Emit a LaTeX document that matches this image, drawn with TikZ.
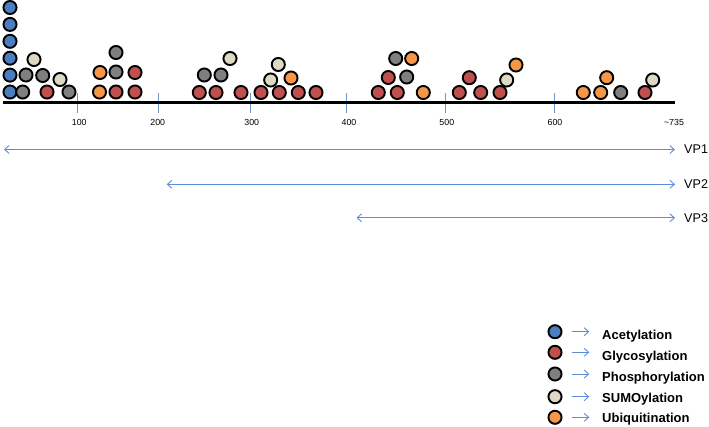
\documentclass[tikz,border=0pt]{standalone}
\usepackage{fontspec}
\setmainfont{Liberation Sans}
\usetikzlibrary{arrows.meta}
\definecolor{cacet}{HTML}{4A7EBF}
\definecolor{cglyc}{HTML}{C0504D}
\definecolor{cphos}{HTML}{7F7F7F}
\definecolor{csumo}{HTML}{DDD9C3}
\definecolor{cubiq}{HTML}{F79646}
\definecolor{carrow}{HTML}{5B8ED6}
\definecolor{ctick}{HTML}{6A96CC}
\tikzset{
  site/.style={circle, draw=black, line width=1.9pt, minimum size=13.1pt, inner sep=0pt},
  axislabel/.style={font=\fontsize{8.8}{10}\selectfont, inner sep=0pt},
  vplabel/.style={font=\fontsize{12.6}{14}\selectfont, anchor=west, inner sep=0pt},
  leglabel/.style={font=\fontsize{13}{15}\selectfont\bfseries, anchor=base west, inner sep=0pt},
  vprange/.style={draw=carrow, line width=0.9pt, {Straight Barb[length=4.5pt,width=8pt]}-{Straight Barb[length=4.5pt,width=8pt]}},
  legarrow/.style={draw=carrow, line width=0.9pt, -{Straight Barb[length=4.5pt,width=8pt]}},
  tickmark/.style={draw=ctick, line width=0.9pt}
}
\begin{document}
\begin{tikzpicture}[x=1pt,y=-1pt]
\useasboundingbox (0,0) rectangle (709,426);
% axis
\coordinate (axL) at (3,102.5);
\coordinate (axR) at (675,102.5);
% ticks and labels
\foreach \x/\lx/\t [count=\i] in {77.3/79.3/100, 158/157.8/200, 250.7/251.7/300, 346.7/349/400, 445.7/446.8/500, 554/555/600} {
  \coordinate (tt\i) at (\x,93);
  \coordinate (tb\i) at (\x,112.5);
  \draw[tickmark] (tt\i) -- (tb\i);
  \node[axislabel] (tl\i) at (\lx,122.3) {\t};
}
\draw[line width=3pt, black] (axL) -- (axR);
\node[axislabel] (tlend) at (674,122.3) {\char`\~735};
% sites
\foreach \x/\y/\c [count=\i] in {
  10/7.5/cacet, 10/24.4/cacet, 10/41.3/cacet, 10/58.2/cacet, 10/75.1/cacet, 10/92/cacet,
  22.7/92/cphos, 47/92/cglyc, 69/92/cphos, 26/75/cphos, 42.7/75.5/cphos, 60/79.5/csumo, 34/59.5/csumo,
  99.5/92/cubiq, 116/92/cglyc, 135/92/cglyc, 100/72.5/cubiq, 116/72/cphos, 135/72.5/cglyc, 116/52.5/cphos,
  199.3/92.5/cglyc, 216/92.5/cglyc, 241/92.5/cglyc, 261/92.5/cglyc, 279.3/92.5/cglyc, 298.3/92.5/cglyc, 316/92.5/cglyc,
  204.3/75/cphos, 221/75/cphos, 230/58.5/csumo, 278.3/64.5/csumo, 270.7/80/csumo, 291/78/cubiq,
  378.3/92.5/cglyc, 397.3/92.5/cglyc, 423.3/92.5/cubiq, 388.3/77.5/cglyc, 406.7/77/cphos, 395.7/58.5/cphos, 411.7/58.5/cubiq,
  459.3/92.5/cglyc, 480.7/92.5/cglyc, 500/92.5/cglyc, 469.3/77.7/cglyc, 506.7/80/csumo, 516/65/cubiq,
  583.3/92.5/cubiq, 600.7/92.5/cubiq, 606.7/77.7/cubiq, 620.7/92.5/cphos, 645/92.5/cglyc, 652.7/80/csumo} {
  \node[site, fill=\c] (s\i) at (\x,\y) {};
}
% ranges
\coordinate (vp1a) at (4,149.5);
\coordinate (vp1b) at (675,149.5);
\coordinate (vp2a) at (166.7,184.3);
\coordinate (vp2b) at (675,184.3);
\coordinate (vp3a) at (356.5,217.8);
\coordinate (vp3b) at (675,217.8);
\draw[vprange] (vp1a) -- (vp1b);
\draw[vprange] (vp2a) -- (vp2b);
\draw[vprange] (vp3a) -- (vp3b);
\node[vplabel] (vp1) at (684,149.5) {VP1};
\node[vplabel] (vp2) at (684,184.3) {VP2};
\node[vplabel] (vp3) at (684,217.8) {VP3};
% legend
\foreach \y/\by/\c/\t [count=\i] in {331.7/339.5/cacet/Acetylation, 352.3/360/cglyc/Glycosylation, 374/381/cphos/Phosphorylation, 396.7/402.5/csumo/SUMOylation, 417.3/422/cubiq/Ubiquitination} {
  \node[site, fill=\c] (lc\i) at (555,\y) {};
  \coordinate (la\i) at (571.7,\y);
  \coordinate (lb\i) at (589.3,\y);
  \draw[legarrow] (la\i) -- (lb\i);
  \node[leglabel] (lt\i) at (602,\by) {\t};
}
\end{tikzpicture}
\end{document}
